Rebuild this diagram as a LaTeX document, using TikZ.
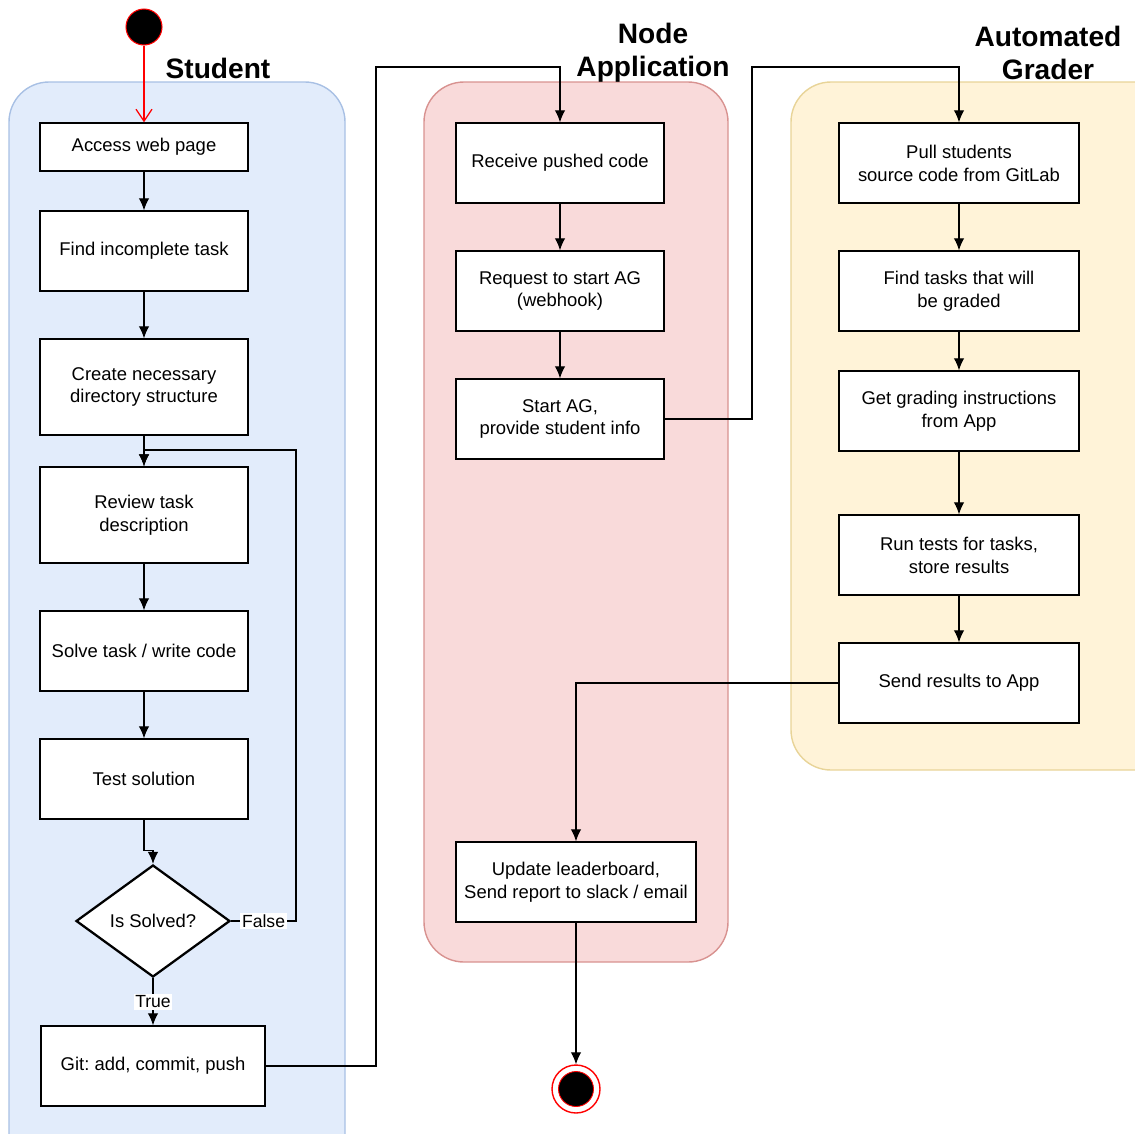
\documentclass[tikz,border=0pt]{standalone}
\usepackage{fontspec}
\setmainfont{Liberation Sans}
\usepackage{tikz}
\usetikzlibrary{arrows.meta,shapes.geometric}
\frenchspacing
\definecolor{laneblue}{RGB}{226,236,251}
\definecolor{laneblueline}{RGB}{168,192,228}
\definecolor{lanered}{RGB}{249,218,218}
\definecolor{laneredline}{RGB}{216,146,144}
\definecolor{laneyellow}{RGB}{255,243,216}
\definecolor{laneyellowline}{RGB}{232,212,152}
\tikzset{
  lane/.style={line width=0.8pt, rounded corners=0.8cm},
  lanetitle/.style={font=\fontsize{16}{19}\selectfont\bfseries, align=center, inner sep=0pt},
  actbox/.style={draw, fill=white, line width=0.8pt, minimum width=4.16cm, minimum height=1.6cm, align=center, inner sep=1pt},
  decision/.style={diamond, draw, fill=white, line width=1.3pt, minimum width=3.08cm, minimum height=2.24cm, inner sep=0pt},
  flow/.style={line width=0.7pt, -{Latex[length=2.4mm,width=2.1mm]}},
  edgelabel/.style={fill=white, inner sep=1pt, font=\fontsize{10}{12}\selectfont},
  startdot/.style={circle, fill=black, draw=red, line width=0.6pt, minimum size=0.72cm, inner sep=0pt},
  endring/.style={circle, fill=white, draw=red, line width=0.8pt, minimum size=0.96cm, inner sep=0pt},
  enddot/.style={circle, fill=black, draw=red, line width=0.5pt, minimum size=0.7cm, inner sep=0pt}
}
\begin{document}
\begin{tikzpicture}[x=0.02cm, y=-0.02cm, font=\fontsize{10.5}{13}\selectfont]
\useasboundingbox (0,0) rectangle (1135,1133);
\clip (0,0) rectangle (1135,1133);

% swimlanes
\draw[lane, fill=laneblue, draw=laneblueline] (9,82) rectangle (345,1180);
\draw[lane, fill=lanered, draw=laneredline] (424,82) rectangle (728,962);
\draw[lane, fill=laneyellow, draw=laneyellowline] (791,82) rectangle (1180,770);

\node[lanetitle] (student) at (218,68) {Student};
\node[lanetitle] (nodeapp) at (653,53) {Node\\Application};
\node[lanetitle] (grader) at (1048,53) {Automated\\Grader};

% student
\node[startdot] (start) at (144,27) {};
\node[actbox, minimum height=0.96cm] (access) at (144,147) {Access web page};
\node[actbox] (find) at (144,251) {Find incomplete task};
\node[actbox, minimum height=1.92cm] (create) at (144,387) {Create necessary\\directory structure};
\node[actbox, minimum height=1.92cm] (review) at (144,515) {Review task\\description};
\node[actbox] (solve) at (144,651) {Solve task / write code};
\node[actbox] (test) at (144,779) {Test solution};
\node[decision] (solved) at (153,921) {Is Solved?};
\node[actbox, minimum width=4.48cm] (git) at (153,1066) {Git: add, commit, push};

% node application
\node[actbox] (receive) at (560,163) {Receive pushed code};
\node[actbox] (request) at (560,291) {Request to start AG\\(webhook)};
\node[actbox] (startag) at (560,419) {Start AG,\\provide student info};
\node[actbox, minimum width=4.8cm] (update) at (576,882) {Update leaderboard,\\Send report to slack / email};
\node[endring] (finish) at (576,1089) {};
\node[enddot] (finishdot) at (finish) {};

% automated grader
\node[actbox, minimum width=4.8cm] (pull) at (959,163) {Pull students\\source code from GitLab};
\node[actbox, minimum width=4.8cm] (tasks) at (959,291) {Find tasks that will\\be graded};
\node[actbox, minimum width=4.8cm] (instr) at (959,411) {Get grading instructions\\from App};
\node[actbox, minimum width=4.8cm] (run) at (959,555) {Run tests for tasks,\\store results};
\node[actbox, minimum width=4.8cm] (send) at (959,683) {Send results to App};

% connectors
\coordinate (loopright) at (296,921);
\coordinate (looptop) at (296,450);
\coordinate (gitturn) at (376,67);
\coordinate (agturn) at (752,67);

\draw[red, line width=0.7pt, -{Straight Barb[length=2.4mm,width=3.2mm]}] (start) -- (access);
\draw[flow] (access) -- (find);
\draw[flow] (find) -- (create);
\draw[flow] (create) -- (review);
\draw[flow] (review) -- (solve);
\draw[flow] (solve) -- (test);
\draw[flow] (test.south) -- ++(0,31) -| (solved.north);
\draw[flow] (solved.east) -- node[edgelabel] {False} (loopright) -- (looptop) -| (review.north);
\draw[flow] (solved.south) -- node[edgelabel] {True} (git.north);
\draw[flow] (git.east) -| (gitturn) -| (receive.north);
\draw[flow] (receive) -- (request);
\draw[flow] (request) -- (startag);
\draw[flow] (startag.east) -| (agturn) -| (pull.north);
\draw[flow] (pull) -- (tasks);
\draw[flow] (tasks) -- (instr);
\draw[flow] (instr) -- (run);
\draw[flow] (run) -- (send);
\draw[flow] (send.west) -| (update.north);
\draw[flow] (update) -- (finish);
\end{tikzpicture}
\end{document}
